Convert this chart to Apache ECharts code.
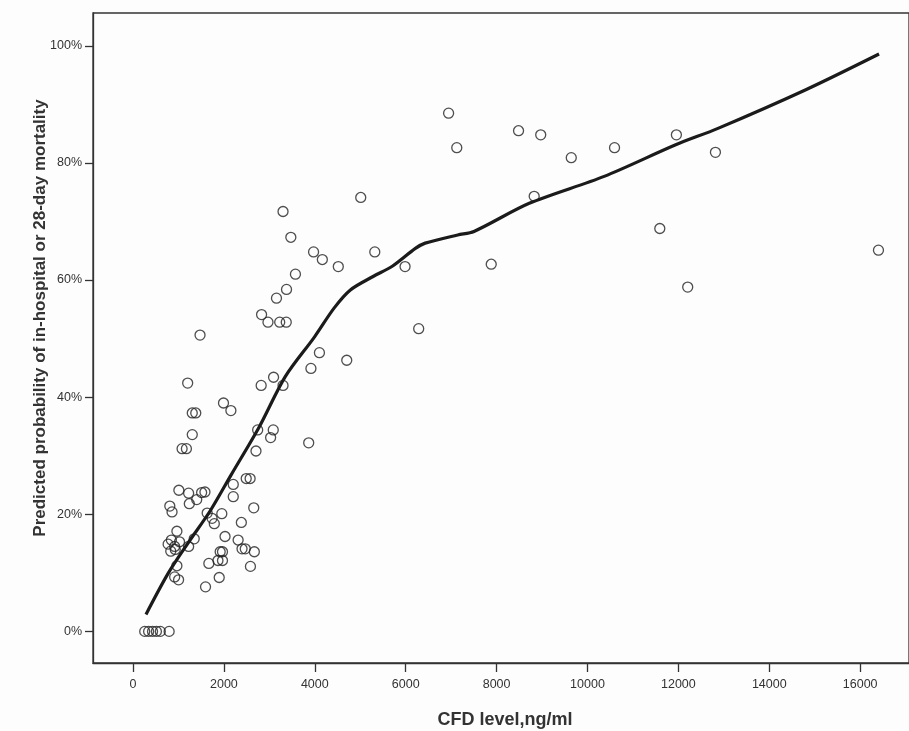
<!DOCTYPE html>
<html>
<head>
<meta charset="utf-8">
<script src="https://cdn.jsdelivr.net/npm/echarts@6/dist/echarts.min.js"></script>
<style>
  html, body { margin: 0; padding: 0; background: #fdfdfd; }
  #chart { width: 909px; height: 731px; }
</style>
</head>
<body>
<div id="chart"></div>
<script>
// observed patients: CFD level (ng/ml), predicted probability (%)
const cfdLevel = [
  258, 344, 430, 515, 601, 795,
  810, 859, 1009, 1224, 1510, 1583, 1239, 1402, 2206, 2206, 2491, 2577, 2657, 1632,
  1954, 1740, 1789, 2384, 966, 2025, 1347, 2313, 844, 773, 917, 1024, 1224, 831,
  930, 2399, 2470, 2670, 1918, 1969, 1869, 1969, 1669, 2584, 966, 917, 1003, 1897, 1596,
  3378, 3157, 2829, 2970, 3228, 3372, 1475, 4102, 3915, 1203, 3093, 2820, 3301, 1991,
  2154, 1304, 1381, 2743, 3086, 3028, 1304, 1080, 1175, 2706, 3866,
  5011, 3301, 3473, 3973, 4166, 4517, 5320, 5986, 7882, 3574, 6286, 4703,
  6944, 7124, 8483, 8971, 9643, 10595, 11956, 12815, 8827, 11591, 16402, 12205
];
const probability = [
  0, 0, 0, 0, 0, 0,
  21.4, 20.4, 24.1, 23.6, 23.7, 23.8, 21.8, 22.5, 25.1, 23.0, 26.1, 26.1, 21.1, 20.2,
  20.1, 19.3, 18.4, 18.6, 17.1, 16.2, 15.8, 15.6, 15.6, 14.9, 14.5, 15.3, 14.5, 13.7,
  14.0, 14.1, 14.1, 13.6, 13.6, 13.6, 12.1, 12.1, 11.6, 11.1, 11.2, 9.3, 8.8, 9.2, 7.6,
  58.4, 56.9, 54.1, 52.8, 52.8, 52.8, 50.6, 47.6, 44.9, 42.4, 43.4, 42.0, 42.0, 39.0,
  37.7, 37.3, 37.3, 34.4, 34.4, 33.1, 33.6, 31.2, 31.2, 30.8, 32.2,
  74.1, 71.7, 67.3, 64.8, 63.5, 62.3, 64.8, 62.3, 62.7, 61.0, 51.7, 46.3,
  88.5, 82.6, 85.5, 84.8, 80.9, 82.6, 84.8, 81.8, 74.3, 68.8, 65.1, 58.8
];

// fitted curve
const fitX = [286, 773, 1203, 1700, 2150, 2777, 3350, 3995, 4424, 4783, 5283, 5713, 6213, 6428, 7145, 7502, 8719, 10367, 11941, 12871, 14804, 16415];
const fitY = [2.9, 9.9, 15.0, 20.6, 26.6, 34.9, 43.5, 50.3, 55.2, 58.3, 60.6, 62.4, 65.4, 66.3, 67.7, 68.3, 73.1, 77.7, 83.1, 85.9, 92.5, 98.6];

const xTicks = [0, 2000, 4000, 6000, 8000, 10000, 12000, 14000, 16000];
const yTicks = [0, 20, 40, 60, 80, 100];

const chart = echarts.init(document.getElementById('chart'));

const labelFont = "'Liberation Sans Narrow', 'Liberation Sans', Arial, sans-serif";
const titleFont = "'Liberation Sans', Arial, sans-serif";

chart.setOption({
  backgroundColor: '#fdfdfd',
  animation: false,
  grid: {
    left: 93, top: 13, right: -20, bottom: 68,
    show: true, borderColor: '#333', borderWidth: 1.3, backgroundColor: 'transparent'
  },
  xAxis: {
    type: 'value', min: -880, max: 17074,
    splitLine: { show: false },
    axisLine: { show: true, onZero: false, lineStyle: { color: '#333', width: 1.3 } },
    axisTick: { show: true, customValues: xTicks, length: 9, lineStyle: { color: '#333', width: 1.3 } },
    axisLabel: { customValues: xTicks, formatter: v => String(v), margin: 15, color: '#333', fontSize: 12.5, fontFamily: labelFont }
  },
  yAxis: {
    type: 'value', min: -5.4, max: 105.6,
    splitLine: { show: false },
    axisLine: { show: true, onZero: false, lineStyle: { color: '#333', width: 1.3 } },
    axisTick: { show: true, customValues: yTicks, length: 8, lineStyle: { color: '#333', width: 1.3 } },
    axisLabel: { customValues: yTicks, formatter: v => v + '%', margin: 11, color: '#333', fontSize: 12.5, fontFamily: labelFont }
  },
  graphic: [
    {
      type: 'text', x: 505, y: 720,
      style: { text: 'CFD level,ng/ml', fill: '#333', font: "bold 18px " + titleFont, textAlign: 'center', textVerticalAlign: 'middle' }
    },
    {
      type: 'text', x: 40, y: 318, rotation: Math.PI / 2,
      style: { text: 'Predicted probability of in-hospital or 28-day mortality', fill: '#333', font: "bold 17px " + titleFont, textAlign: 'center', textVerticalAlign: 'middle' }
    }
  ],
  series: [
    {
      type: 'scatter',
      data: cfdLevel.map((x, i) => [x, probability[i]]),
      symbol: 'circle',
      symbolSize: 10,
      itemStyle: { color: 'transparent', borderColor: '#222', borderWidth: 1.3 },
      emphasis: { disabled: true }
    },
    {
      type: 'line',
      data: fitX.map((x, i) => [x, fitY[i]]),
      smooth: 0.3,
      showSymbol: false,
      lineStyle: { color: '#1b1b1b', width: 3.2 }
    }
  ]
});
</script>
</body>
</html>
